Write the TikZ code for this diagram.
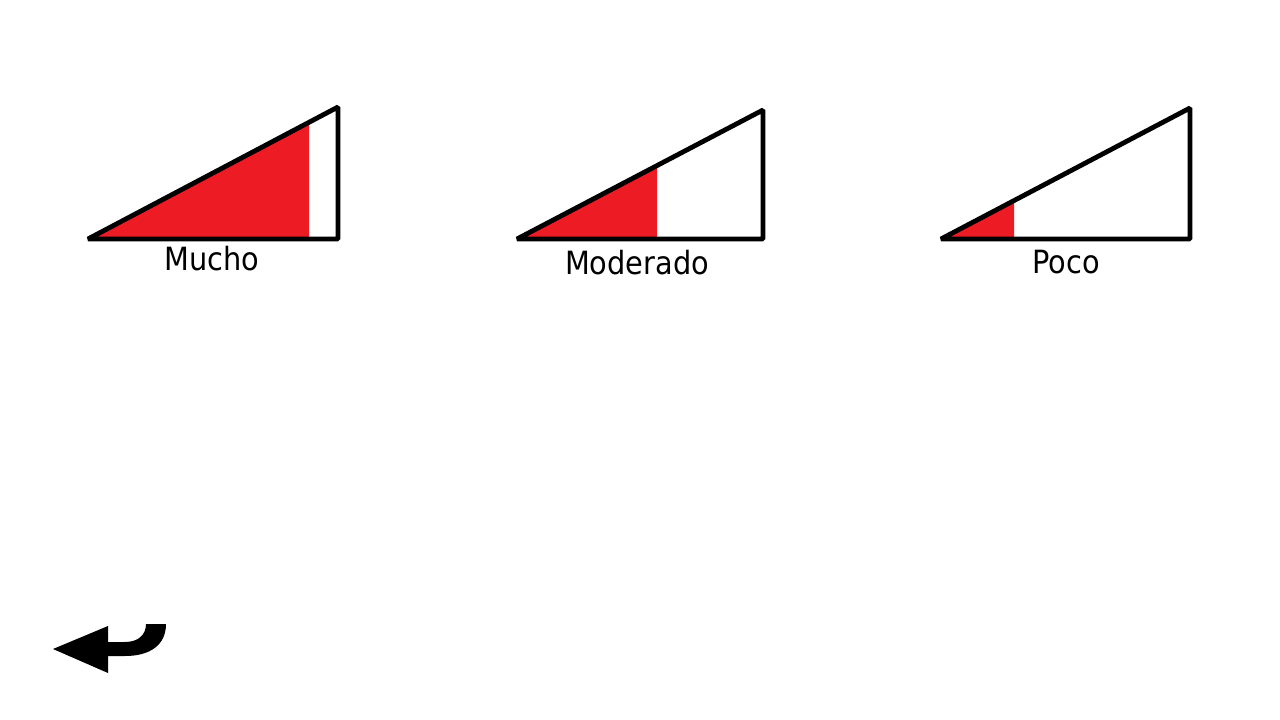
\documentclass[tikz,border=0pt]{standalone}
\usepackage{fontspec}
\newfontfamily\labelfont{DejaVu Sans Condensed}
\definecolor{fillred}{HTML}{ED1C24}
\begin{document}
\begin{tikzpicture}[x=0.75pt,y=-0.75pt,
  tri/.style={draw=black,line width=3.6pt,line join=bevel},
  redpart/.style={fill=fillred,draw=none},
  lbl/.style={font=\labelfont\fontsize{24}{27}\selectfont,inner sep=0pt,anchor=base}]
\useasboundingbox[fill=white] (0,0) rectangle (1280,720);
% Mucho
\fill[redpart] (88,239) -- (309,122.3) -- (309,239) -- cycle;
\draw[tri] (88,239) -- (338,107) -- (338,239) -- cycle;
\node[lbl] (l1) at (212,270) {Mucho};
% Moderado
\fill[redpart] (517,239) -- (657,165.6) -- (657,239) -- cycle;
\draw[tri] (517,239) -- (763,110) -- (763,239) -- cycle;
\node[lbl] (l2) at (637,274) {Moderado};
% Poco
\fill[redpart] (941,239) -- (1014,200.6) -- (1014,239) -- cycle;
\draw[tri] (941,239) -- (1190,108) -- (1190,239) -- cycle;
\node[lbl] (l3) at (1066,273) {Poco};
% back arrow
\fill[black] (53,649) -- (108,626) -- (108,642) -- (125,642)
  .. controls (138,642) and (146,635) .. (146,624) -- (166,624)
  .. controls (166,645) and (150,656) .. (125,656) -- (108,656) -- (108,673) -- cycle;
\end{tikzpicture}
\end{document}
